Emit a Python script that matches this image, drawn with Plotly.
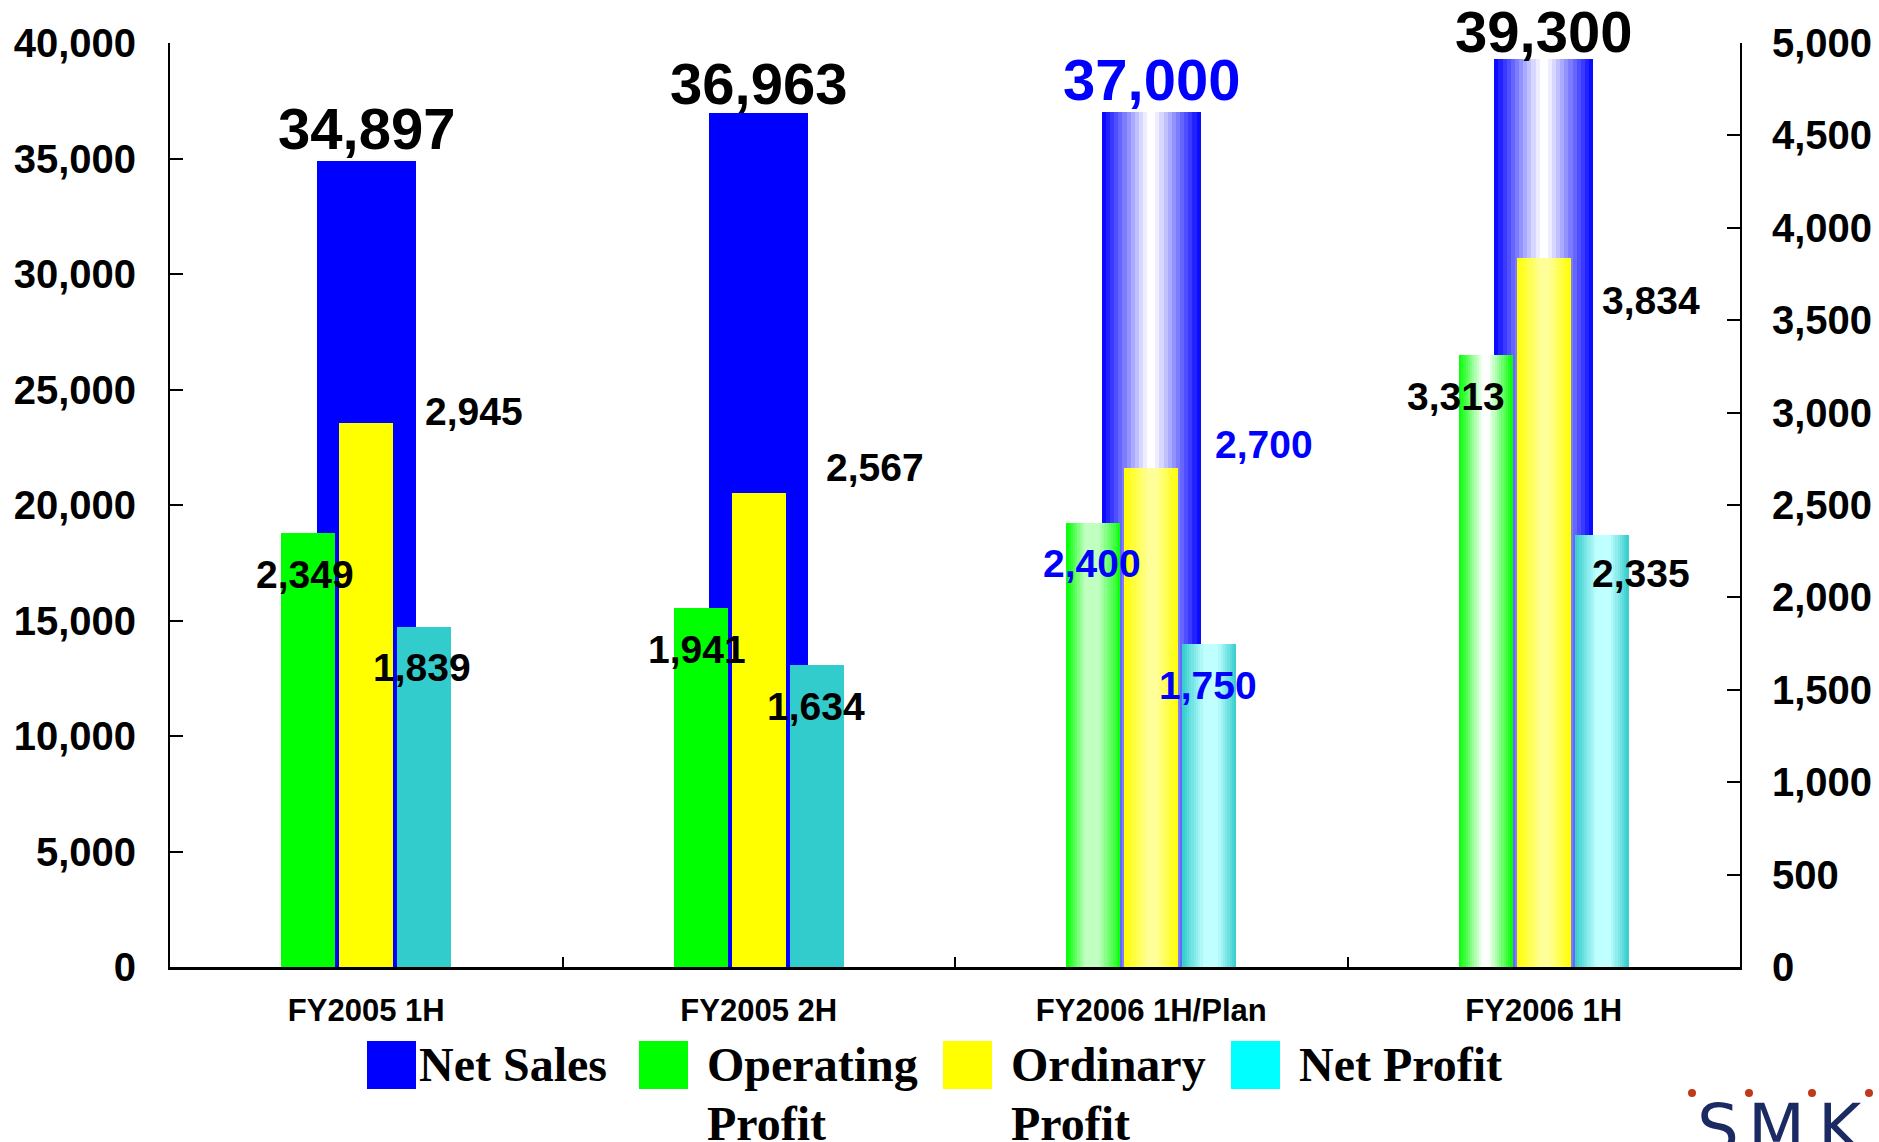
import plotly.graph_objects as go

# ---- data -------------------------------------------------------------
categories = ["FY2005 1H", "FY2005 2H", "FY2006 1H/Plan", "FY2006 1H"]
net_sales = [34897, 36963, 37000, 39300]
operating_profit = [2349, 1941, 2400, 3313]
ordinary_profit = [2945, 2567, 2700, 3834]
net_profit = [1839, 1634, 1750, 2335]

sales_ticks = [0, 5000, 10000, 15000, 20000, 25000, 30000, 35000, 40000]
profit_ticks = [0, 500, 1000, 1500, 2000, 2500, 3000, 3500, 4000, 4500, 5000]

# ---- styling ----------------------------------------------------------
FONT_SANS = "Liberation Sans, Arial, sans-serif"
FONT_SERIF = "Liberation Serif, Times New Roman, serif"
BLUE = "#0000ff"

shaded = [False, False, True, True]          # FY2006 bars get a cylinder shading
label_blue = [False, False, True, False]     # plan figures written in blue

SALES_W = 0.252
SMALL_W = 0.137
SMALL_POS = {"op": -0.148, "ord": 0.0, "net": 0.148}
STRIPS = 24

# colour stops across the bar width (0 = left edge, 1 = right edge)
PROFILES = {
    "sales": [(0, "#0000ff"), (0.47, "#ffffff"), (0.53, "#ffffff"), (1, "#0000ff")],
    "op_plan": [(0, "#00ff00"), (0.35, "#c0ffc0"), (0.6, "#c0ffc0"), (0.9, "#40ff40"), (1, "#00ff00")],
    "op_act": [(0, "#00ff00"), (0.45, "#ffffff"), (0.55, "#ffffff"), (1, "#00ff00")],
    "ord": [(0, "#ffff00"), (0.45, "#ffff99"), (0.6, "#ffff99"), (1, "#ffff00")],
    "net": [(0, "#33cccc"), (0.4, "#c0ffff"), (0.65, "#c0ffff"), (1, "#33cccc")],
}


def hex2rgb(h):
    h = h.lstrip("#")
    return [int(h[i:i + 2], 16) for i in (0, 2, 4)]


def profile_color(stops, t):
    for (t0, c0), (t1, c1) in zip(stops[:-1], stops[1:]):
        if t0 <= t <= t1:
            f = 0 if t1 == t0 else (t - t0) / (t1 - t0)
            a, b = hex2rgb(c0), hex2rgb(c1)
            rgb = [round(a[i] + (b[i] - a[i]) * f) for i in range(3)]
            return "rgb({},{},{})".format(*rgb)
    return stops[-1][1]


fig = go.Figure()


def add_series(values, yaxis, center, width, solid, profiles):
    """Solid bars for plain periods, left-to-right layered strips for shaded ones."""
    plain = [i for i, s in enumerate(shaded) if not s]
    grad = [i for i, s in enumerate(shaded) if s]
    fig.add_trace(go.Bar(
        x=[categories[i] for i in plain], y=[values[i] for i in plain],
        yaxis=yaxis, width=width, offset=center - width / 2,
        marker=dict(color=solid, line=dict(width=0)), hoverinfo="skip",
        showlegend=False,
    ))
    step = width / STRIPS
    for k in range(STRIPS):
        t = (k + 0.5) / STRIPS
        fig.add_trace(go.Bar(
            x=[categories[i] for i in grad], y=[values[i] for i in grad],
            yaxis=yaxis, width=width - k * step, offset=center - width / 2 + k * step,
            marker=dict(color=[profile_color(profiles[j], t) for j in range(len(grad))],
                        line=dict(width=0)),
            hoverinfo="skip", showlegend=False,
        ))


add_series(net_sales, "y", 0.0, SALES_W, BLUE, [PROFILES["sales"], PROFILES["sales"]])
add_series(operating_profit, "y2", SMALL_POS["op"], SMALL_W, "#00ff00",
           [PROFILES["op_plan"], PROFILES["op_act"]])
add_series(ordinary_profit, "y2", SMALL_POS["ord"], SMALL_W, "#ffff00",
           [PROFILES["ord"], PROFILES["ord"]])
add_series(net_profit, "y2", SMALL_POS["net"], SMALL_W, "#33cccc",
           [PROFILES["net"], PROFILES["net"]])

annotations = []

# net sales figures above the wide bars
sales_lift = [32, 30, 33, 28]
for i, v in enumerate(net_sales):
    annotations.append(dict(
        x=categories[i], y=v, xref="x", yref="y", text=f"{v:,}", showarrow=False,
        yanchor="middle", yshift=sales_lift[i],
        font=dict(family=FONT_SANS, size=58, weight="bold",
                  color=BLUE if label_blue[i] else "black"),
    ))

# profit figures, nudged beside their bars (px offsets from category centre / bar top)
profit_labels = [
    (operating_profit, [(-61, -42), (-62, -41), (-59, -40), (-88, -42)]),
    (ordinary_profit, [(108, 11), (116, 25), (113, 24), (107, -42)]),
    (net_profit, [(56, -40), (57, -41), (57, -42), (97, -38)]),
]
for values, shifts in profit_labels:
    for i, v in enumerate(values):
        dx, dy = shifts[i]
        annotations.append(dict(
            x=categories[i], y=v, xref="x", yref="y2", text=f"{v:,}", showarrow=False,
            xanchor="center", yanchor="middle", xshift=dx, yshift=dy,
            font=dict(family=FONT_SANS, size=39, weight="bold",
                      color=BLUE if label_blue[i] else "black"),
        ))

# ---- legend built from swatches and text ---------------------------------
PLOT_L, PLOT_R, PLOT_T, PLOT_B = 170, 1740, 43, 967


def px_x(px):
    return (px - PLOT_L) / (PLOT_R - PLOT_L)


def px_y(py):
    return (PLOT_B - py) / (PLOT_B - PLOT_T)


legend_items = [
    ("#0000ff", 367, ["Net Sales"]),
    ("#00ff00", 639, ["Operating", "Profit"]),
    ("#ffff00", 943, ["Ordinary", "Profit"]),
    ("#00ffff", 1231, ["Net Profit"]),
]
shapes = []
for color, x0, lines in legend_items:
    shapes.append(dict(type="rect", xref="paper", yref="paper",
                       x0=px_x(x0), x1=px_x(x0 + 49), y0=px_y(1089), y1=px_y(1041),
                       fillcolor=color, line=dict(width=0)))
    text_x = x0 + 50 if lines[0] == "Net Sales" else x0 + 66
    for j, line in enumerate(lines):
        annotations.append(dict(
            x=px_x(text_x), y=px_y(1064 + 59 * j), xref="paper", yref="paper",
            text=line, showarrow=False, xanchor="left", yanchor="middle",
            font=dict(family=FONT_SERIF, size=48, weight="bold", color="black"),
        ))

# company mark in the lower right corner
for letter, cx in [("S", 1718), ("M", 1776), ("K", 1840)]:
    annotations.append(dict(
        x=px_x(cx), y=px_y(1128), xref="paper", yref="paper", text=letter,
        showarrow=False, xanchor="center", yanchor="middle",
        font=dict(family="DejaVu Sans, sans-serif", size=66, color="#1b2a63"),
    ))
for cx in [1692, 1749, 1812, 1869]:
    shapes.append(dict(type="circle", xref="paper", yref="paper",
                       x0=px_x(cx - 4), x1=px_x(cx + 4), y0=px_y(1097), y1=px_y(1089),
                       fillcolor="#c0391b", line=dict(width=0)))

axis_common = dict(showline=True, linecolor="black", showgrid=False, zeroline=False,
                   ticks="inside", tickcolor="black", automargin=False)

fig.update_layout(
    width=1879, height=1142,
    margin=dict(l=PLOT_L, r=1879 - PLOT_R, t=PLOT_T, b=1142 - PLOT_B),
    paper_bgcolor="white", plot_bgcolor="white",
    barmode="overlay", bargap=0, showlegend=False,
    xaxis=dict(type="category", categoryorder="array", categoryarray=categories,
               range=[-0.5, 3.5], tickson="boundaries", ticklen=10, tickwidth=2,
               linewidth=3, ticklabelstandoff=14,
               tickfont=dict(family=FONT_SANS, size=31, weight="bold", color="black"),
               **axis_common),
    yaxis=dict(range=[0, 40000], tickvals=sales_ticks, tickformat=",",
               ticklen=13, tickwidth=2, linewidth=2, ticklabelstandoff=24,
               tickfont=dict(family=FONT_SANS, size=40, weight="bold", color="black"),
               **axis_common),
    yaxis2=dict(range=[0, 5000], tickvals=profit_ticks, tickformat=",",
                overlaying="y", side="right", anchor="x",
                ticklen=13, tickwidth=2, linewidth=2, ticklabelstandoff=22,
                tickfont=dict(family=FONT_SANS, size=40, weight="bold", color="black"),
                **axis_common),
    annotations=annotations,
    shapes=shapes,
)

fig.write_html("out.html", config={"displayModeBar": False})
